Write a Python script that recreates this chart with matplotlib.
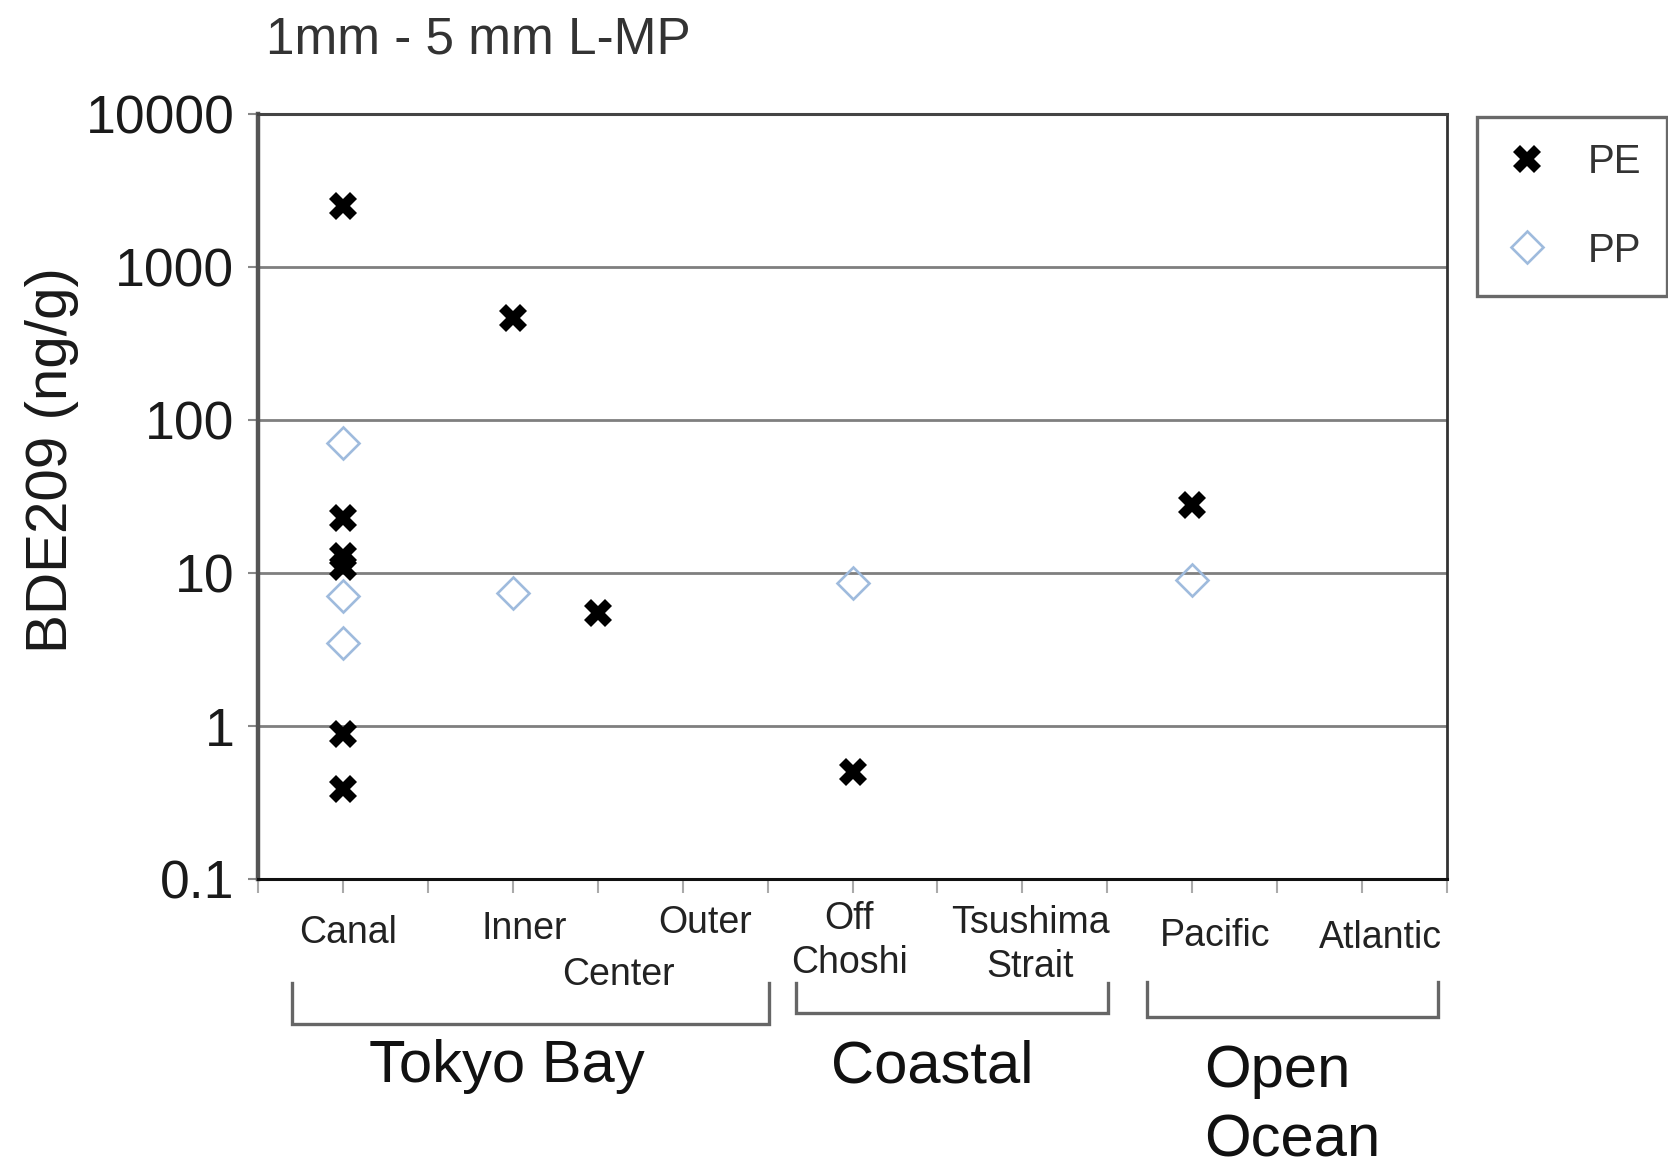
import matplotlib
matplotlib.use("Agg")
import matplotlib.pyplot as plt
import matplotlib.transforms as mtransforms
from matplotlib.ticker import FixedLocator, NullLocator, NullFormatter

plt.rcParams['font.family'] = ['Liberation Sans', 'DejaVu Sans']

# Sampling sites along the x axis (category positions)
sites = ["Canal", "Inner", "Center", "Outer", "Off\nChoshi", "Tsushima\nStrait", "Pacific", "Atlantic"]
site_pos = [1, 3, 4, 5, 7, 9, 11, 13]

# BDE209 concentrations (ng/g) in PE pellets
pe_site = ["Canal", "Canal", "Canal", "Canal", "Canal", "Canal", "Inner", "Center", "Off\nChoshi", "Pacific"]
pe_val = [2500, 23, 12.9, 10.9, 0.88, 0.39, 464, 5.5, 0.50, 28]

# BDE209 concentrations (ng/g) in PP pellets
pp_site = ["Canal", "Canal", "Canal", "Inner", "Off\nChoshi", "Pacific"]
pp_val = [71, 7.1, 3.5, 7.4, 8.6, 9.0]

y_ticks = [0.1, 1, 10, 100, 1000, 10000]
y_ticklabels = ["0.1", "1", "10", "100", "1000", "10000"]

groups = ["Tokyo Bay", "Coastal", "Open\nOcean"]

W, H = 1668, 1168
fig = plt.figure(figsize=(W / 100, H / 100), dpi=100)
ax = fig.add_axes([258 / W, 1 - 879 / H, (1447 - 258) / W, (879 - 114) / H])

pos = dict(zip(sites, site_pos))
ax.plot([pos[s] for s in pe_site], pe_val, linestyle="none", marker="X",
        markersize=20, color="black", markeredgewidth=0, label="PE", zorder=4)
ax.plot([pos[s] for s in pp_site], pp_val, linestyle="none", marker="D",
        markersize=16, markerfacecolor="none", markeredgecolor="#9fbbdd",
        markeredgewidth=1.9, label="PP", zorder=3)

ax.set_yscale("log")
ax.set_ylim(0.1, 10000)
ax.set_xlim(0, 14)
ax.yaxis.set_major_locator(FixedLocator(y_ticks))
ax.set_yticklabels(y_ticklabels)
ax.yaxis.set_minor_locator(NullLocator())
ax.yaxis.set_minor_formatter(NullFormatter())
ax.set_xticks(range(0, 15))
ax.set_xticklabels([])
ax.tick_params(axis="y", labelsize=38.5, length=7, width=1.5, color="#888888",
               pad=10, labelcolor="#1a1a1a")
ax.tick_params(axis="x", length=10, width=1.5, color="#aaaaaa", direction="out")
ax.yaxis.grid(True, color="#7f7f7f", linewidth=2)
ax.set_axisbelow(True)

ax.spines["left"].set_linewidth(3.2)
ax.spines["left"].set_color("#555555")
ax.spines["top"].set_linewidth(2.2)
ax.spines["top"].set_color("#444444")
ax.spines["right"].set_linewidth(2)
ax.spines["right"].set_color("#333333")
ax.spines["bottom"].set_linewidth(2.2)
ax.spines["bottom"].set_color("#111111")

# Site labels below the axis (x in data units, y in figure pixels)
trans = mtransforms.blended_transform_factory(ax.transData, fig.transFigure)
label_xy = {
    "Canal": (1.06, 933), "Inner": (3.13, 929), "Center": (4.24, 975),
    "Outer": (5.26, 923), "Off\nChoshi": (6.96, 941), "Tsushima\nStrait": (9.09, 945),
    "Pacific": (11.27, 936), "Atlantic": (13.22, 938),
}
for s in sites:
    x, y = label_xy[s]
    ax.text(x, 1 - y / H, s, transform=trans, ha="center", va="center",
            fontsize=27, color="#222222", linespacing=1.3, clip_on=False)

# Region brackets
brackets = [(0.40, 6.02, 983, 1024), (6.33, 10.01, 983, 1013), (10.47, 13.89, 982, 1017)]
for x0, x1, ytop, ybot in brackets:
    ax.plot([x0, x0, x1, x1], [1 - ytop / H, 1 - ybot / H, 1 - ybot / H, 1 - ytop / H],
            transform=trans, color="#666666", linewidth=2.4, clip_on=False,
            solid_joinstyle="miter")

ax.text(2.93, 1 - 1067 / H, groups[0], transform=trans, ha="center", va="center",
        fontsize=43, color="#111111", clip_on=False)
ax.text(7.94, 1 - 1067 / H, groups[1], transform=trans, ha="center", va="center",
        fontsize=43, color="#111111", clip_on=False)
ax.text(11.14, 1 - 1106 / H, groups[2], transform=trans, ha="left", va="center",
        fontsize=43, color="#111111", linespacing=1.33, clip_on=False)

fig.text(52 / W, 1 - 460 / H, "BDE209 (ng/g)", rotation=90, ha="center", va="center",
         fontsize=42, color="#1a1a1a")
fig.text(266 / W, 1 - 40 / H, "1mm - 5 mm L-MP", ha="left", va="center",
         fontsize=37, color="#333333")

leg = ax.legend(loc="upper left", bbox_to_anchor=(1477 / W, 1 - 117 / H),
                bbox_transform=fig.transFigure, fontsize=29, frameon=True,
                fancybox=False, borderpad=0.65, handlelength=1.2,
                handletextpad=0.9, labelspacing=1.25, borderaxespad=0)
leg.get_frame().set_edgecolor("#444444")
leg.get_frame().set_linewidth(2.4)
for t in leg.get_texts():
    t.set_color("#333333")

fig.savefig("out.png", dpi=100)
